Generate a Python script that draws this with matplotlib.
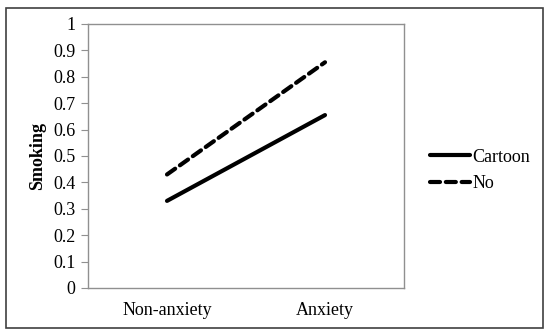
import matplotlib
matplotlib.use("Agg")
import matplotlib.pyplot as plt
from matplotlib.patches import Rectangle
import numpy as np

# data
categories = ["Non-anxiety", "Anxiety"]
cartoon = [0.33, 0.655]
no_cartoon = [0.43, 0.855]
yticks = np.arange(0, 1.01, 0.1)
ytick_labels = ["0", "0.1", "0.2", "0.3", "0.4", "0.5", "0.6", "0.7", "0.8", "0.9", "1"]

plt.rcParams["font.family"] = ["Liberation Serif", "DejaVu Serif"]

W, H = 550, 336
fig = plt.figure(figsize=(W / 100, H / 100), dpi=100)

# chart area frame
fig.patches.append(Rectangle((6 / W, 8 / H), 537 / W, 320 / H, transform=fig.transFigure,
                             fill=False, edgecolor="#404040", linewidth=1.2))

ax = fig.add_axes([88 / W, 1 - 288 / H, 316 / W, 264 / H])
x = np.arange(len(categories))
ax.plot(x, cartoon, color="black", linewidth=3.0, solid_capstyle="round", label="Cartoon")
ax.plot(x, no_cartoon, color="black", linewidth=3.0, linestyle=(0, (2.4, 1.4)),
        dash_capstyle="round", label="No")

ax.set_xlim(-0.5, 1.5)
ax.set_ylim(0, 1)
ax.set_xticks(x)
ax.set_xticklabels(categories, fontsize=13)
ax.set_yticks(yticks)
ax.set_yticklabels(ytick_labels, fontsize=13)
ax.tick_params(axis="x", length=0, pad=10)
ax.tick_params(axis="y", length=5, color="#909090", pad=4)
for s in ax.spines.values():
    s.set_color("#909090")
    s.set_linewidth(1.0)

ax.set_ylabel("Smoking", fontsize=13, fontweight="bold", labelpad=5)

ax.legend(loc="center left", bbox_to_anchor=(1.03, 0.445), frameon=False, fontsize=13,
          handlelength=2.25, handletextpad=0.1, labelspacing=0.55)

fig.savefig("out.png", dpi=100)
